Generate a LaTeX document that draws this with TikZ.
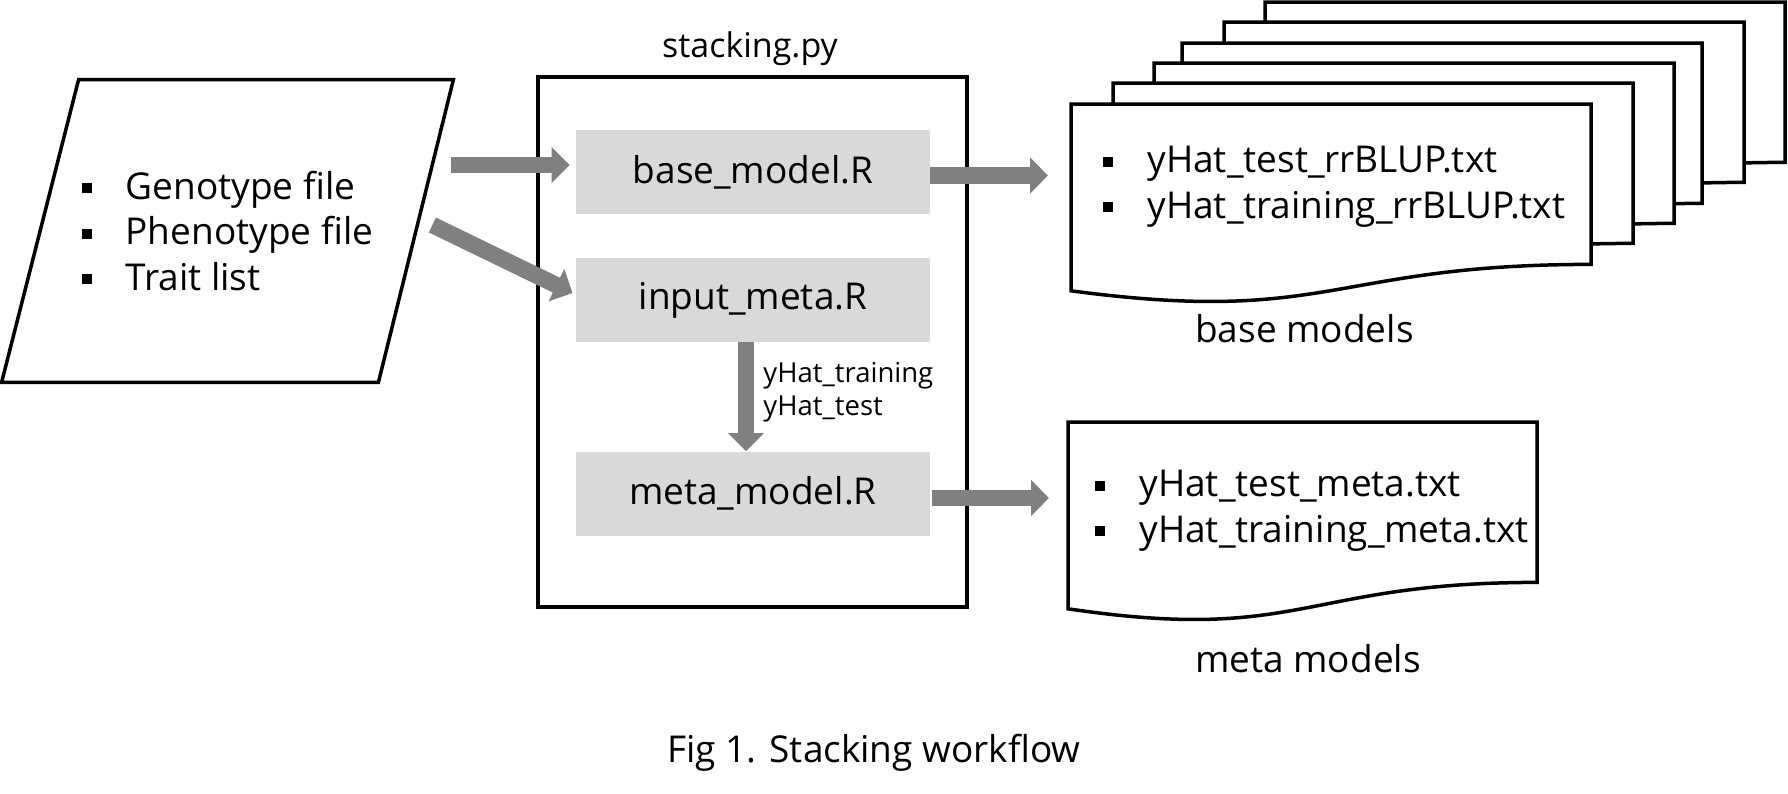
\documentclass[tikz,border=0pt]{standalone}
\usepackage{fontspec}
\setmainfont{Open Sans}
\usepackage{tikz}
\usetikzlibrary{arrows.meta,calc}
\newcommand{\larg}{520}
\newcommand{\haut}{200}
\newcommand{\grand}{\fontsize{18.5pt}{22.75pt}\selectfont}
\newcommand{\moyen}{\fontsize{17pt}{20pt}\selectfont}
\newcommand{\petit}{\fontsize{13.75pt}{16.5pt}\selectfont}
\newcommand{\puce}{\makebox[22pt][l]{\rule[3pt]{5pt}{5pt}}}
\definecolor{grisfleche}{RGB}{128,128,128}
\definecolor{grisscript}{RGB}{217,217,217}
\tikzstyle{bord}=[line width=1.75pt]
\tikzstyle{script}=[fill=grisscript,minimum width=177pt,minimum height=42pt,inner sep=0pt,font=\grand]
\tikzstyle{fleche}=[grisfleche,line width=8.25pt,-{Triangle[width=17.5pt,length=9pt]}]
\tikzstyle{texte}=[inner sep=0pt,align=left,font=\grand]
\newcommand{\feuille}[3]{%
  \draw[bord,fill=white] (#1,#2) -- (#1+#3,#2) -- (#1+#3,#2+0.802*\haut)
  .. controls (#1+#3/2,#2+0.802*\haut) and (#1+#3/2,#2+1.1075*\haut) .. (#1,#2+0.934*\haut) -- cycle;}

\begin{document}
\begin{tikzpicture}[x=0.5pt,y=-0.5pt]
\useasboundingbox (0,0) rectangle (1788,793);

\node[minimum width=225.5pt,minimum height=151pt,inner sep=0pt,align=left,font=\grand] (entrees) at (227.5,231)
  {\puce Genotype file\\ \puce Phenotype file\\ \puce Trait list};
\draw[bord] ($(entrees.north west)+(77,0)$) -- (entrees.north east) -- ($(entrees.south east)+(-75,0)$)
  -- (entrees.south west) -- cycle;

\node[draw,bord,minimum width=214.5pt,minimum height=265pt] (prog) at (752.5,342) {};
\node[anchor=base,font=\moyen] (nomprog) at (750,57) {stacking.py};
\node[script] (basemod) at (753,172) {base\_model.R};
\node[script] (entmeta) at (753,300) {input\_meta.R};
\node[script] (metamod) at (753,493.5) {meta\_model.R};

\foreach \x/\y in {1265/2,1224/22,1182/43,1154/63,1113/83}
  \feuille{\x}{\y}{\larg};
\feuille{1071}{104}{\larg}
\node[minimum width=260pt,minimum height=100pt,inner sep=0pt,anchor=north west] (docbase) at (1071,104) {};
\node[texte,anchor=base west] (lstbase) at (1103,218) {\puce yHat\_test\_rrBLUP.txt\\ \puce yHat\_training\_rrBLUP.txt};
\node[anchor=base,font=\grand] (nombase) at (1304.5,342) {base models};

\feuille{1068}{422}{469}
\node[minimum width=234.5pt,minimum height=100pt,inner sep=0pt,anchor=north west] (docmeta) at (1068,422) {};
\node[texte,anchor=base west] (lstmeta) at (1095,542) {\puce yHat\_test\_meta.txt\\ \puce yHat\_training\_meta.txt};
\node[anchor=base,font=\grand] (nommeta) at (1308,672) {meta models};

\draw[fleche] ($(entrees.east)+(-2,-66)$) -- ($(basemod.west)+(-6,-7)$);
\draw[fleche] ($(entrees.east)+(-21,-6)$) -- ($(entmeta.west)+(-3,-7)$);
\draw[fleche] ($(entmeta.south)+(-7,0)$) -- ($(metamod.north)+(-7,0)$);
\node[anchor=base west,align=left,font=\petit,inner sep=0pt] (sorties) at (763,415) {yHat\_training\\yHat\_test};
\draw[fleche] ($(basemod.east)+(0,3.5)$) -- ($(basemod.east -| docbase.west)+(-23,3.5)$);
\draw[fleche] ($(metamod.east)+(2,4.5)$) -- ($(metamod.east -| docmeta.west)+(-19,4.5)$);

\node[anchor=base,font=\grand] (legende) at (874,762) {Fig 1. Stacking workflow};

\end{tikzpicture}
\end{document}
